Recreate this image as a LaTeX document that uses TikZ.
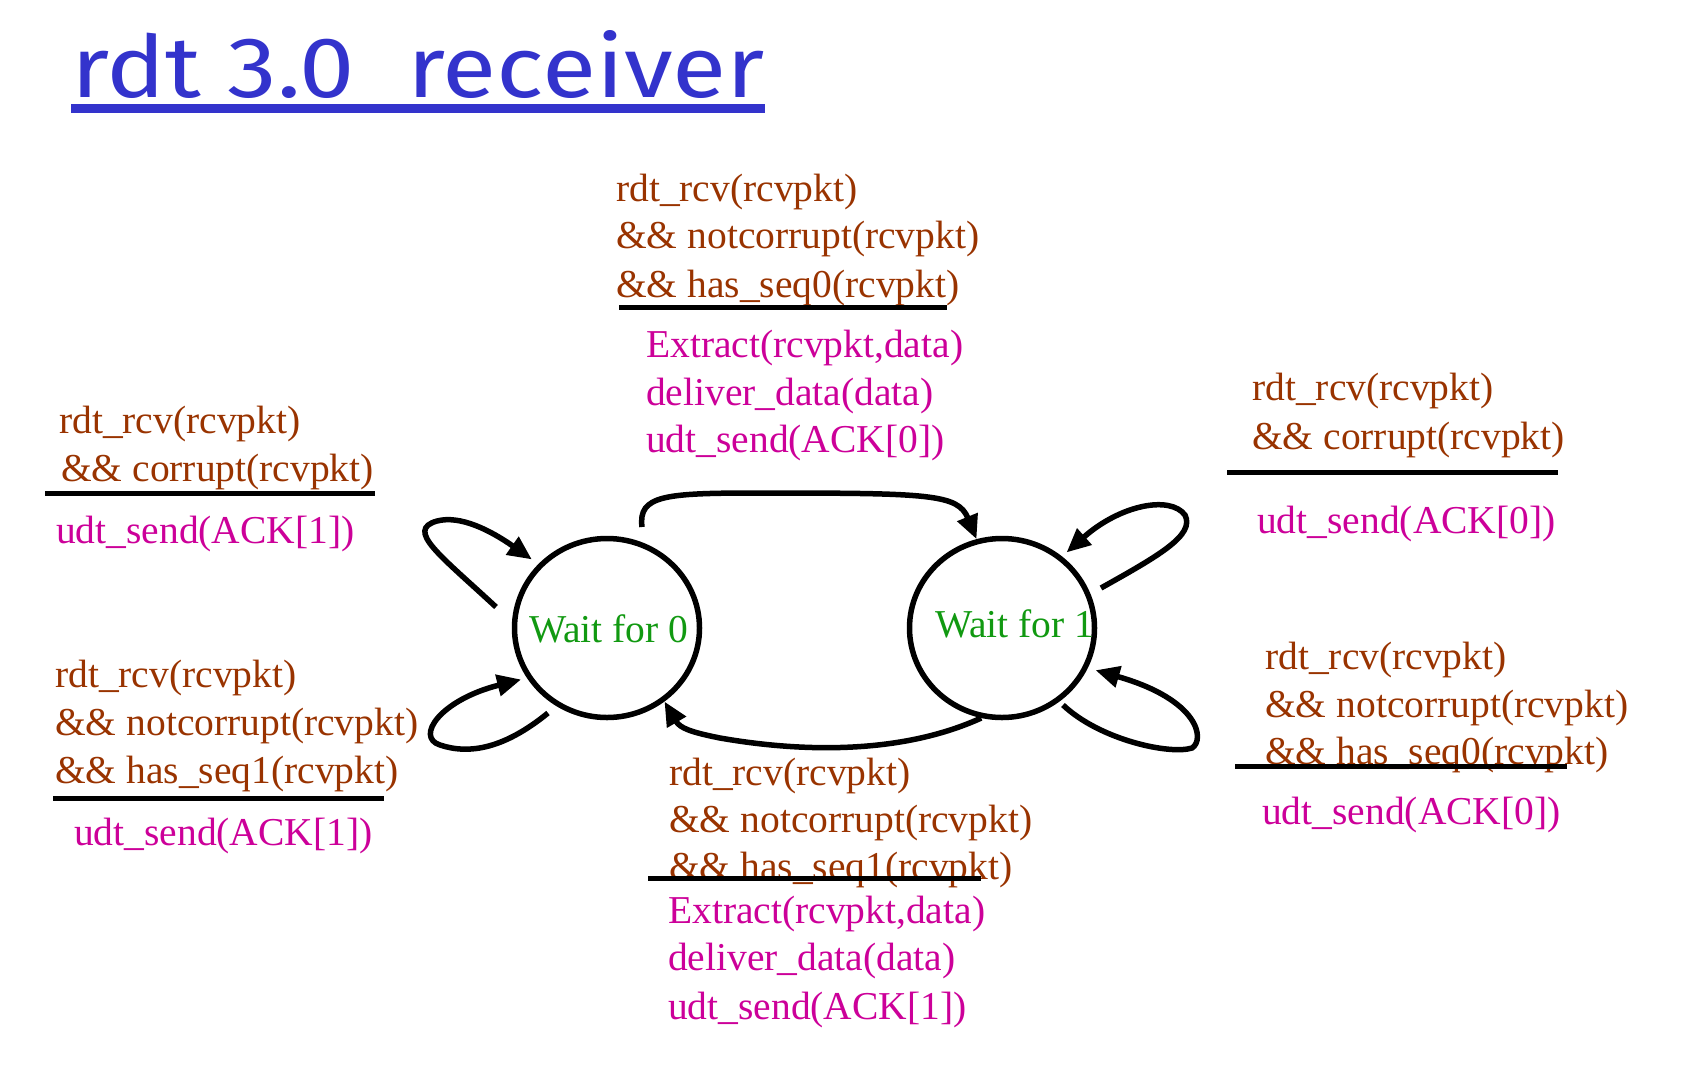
\documentclass[tikz,border=0pt]{standalone}
\usepackage{fontspec}
\setmainfont{Liberation Serif}
\newfontfamily\titlefont{Fira Sans}
\usetikzlibrary{shapes.geometric,arrows.meta}
\definecolor{condc}{HTML}{993300}
\definecolor{actc}{HTML}{CC0099}
\definecolor{statec}{HTML}{119911}
\definecolor{titlec}{HTML}{3333CC}
\newcommand\myfs{\fontsize{39.5}{47.5}\selectfont}
\tikzset{
  cnd/.style={anchor=base west, inner sep=0pt, text=condc, font=\myfs},
  act/.style={anchor=base west, inner sep=0pt, text=actc, font=\myfs},
  stlabel/.style={anchor=base west, inner sep=0pt, text=statec, font=\myfs},
  statebox/.style={ellipse, draw=black, line width=5.5pt, inner sep=0pt, minimum width=185pt, minimum height=179pt},
  bar/.style={draw=black, line width=5pt},
  trans/.style={draw=black, line width=5.5pt, -{Triangle[length=24pt,width=21pt]}},
}
\begin{document}
\begin{tikzpicture}[x=1pt,y=-1pt]
\useasboundingbox (0,0) rectangle (1692,1080);
% title
\node[anchor=base west, inner sep=0pt, text=titlec] (title) at (71,97) {\resizebox{693pt}{67pt}{\titlefont rdt 3.0\ \ receiver}};
\fill[titlec] (71,104) rectangle (765,113);
% states
\node[statebox] (w0) at (607,628) {};
\node[statebox] (w1) at (1002,628) {};
\node[stlabel] (l0) at (529,642) {Wait for 0};
\node[stlabel] (l1) at (935,637) {Wait for 1};
% transitions
\coordinate (tl) at (496,607);
\coordinate (bl) at (548,713);
\coordinate (tr) at (1101,588);
\coordinate (br) at (1063,705);
\coordinate (ts) at (642,527);
\draw[trans] (ts) .. controls (638,495) and (665,493) .. (760,493) .. controls (930,493) and (958,494) .. (w1.106);
\draw[trans] (w1.257) .. controls (900,755) and (800,752) .. (720,738) .. controls (690,732) and (680,728) .. (w0.308);
\draw[trans, shorten >=8pt] (tl) .. controls (440,555) and (405,530) .. (437,521) .. controls (460,515) and (490,530) .. (w0.137);
\draw[trans, shorten >=6pt] (bl) .. controls (505,748) and (470,755) .. (440,745) .. controls (415,737) and (440,700) .. (w0.212);
\draw[trans, shorten >=6pt] (tr) .. controls (1160,555) and (1195,535) .. (1185,515) .. controls (1170,495) and (1120,505) .. (w1.50);
\draw[trans, shorten >=8pt] (br) .. controls (1100,740) and (1170,755) .. (1192,748) .. controls (1205,740) and (1200,700) .. (w1.335);
% top label (0 -> 1)
\node[cnd] (t1) at (616,201) {rdt\_rcv(rcvpkt)};
\node[cnd] (t2) at (616,248) {\&\& notcorrupt(rcvpkt)};
\node[cnd] (t3) at (616,297) {\&\& has\_seq0(rcvpkt)};
\draw[bar] (619,307) -- (947,307);
\node[act] (t4) at (646,357) {Extract(rcvpkt,data)};
\node[act] (t5) at (646,405) {deliver\_data(data)};
\node[act] (t6) at (646,452) {udt\_send(ACK[0])};
% left top
\node[cnd] (a1) at (59,433) {rdt\_rcv(rcvpkt)};
\node[cnd] (a2) at (61,481) {\&\& corrupt(rcvpkt)};
\draw[bar] (45,493) -- (375,493);
\node[act] (a3) at (56,543) {udt\_send(ACK[1])};
% left bottom
\node[cnd] (b1) at (55,687) {rdt\_rcv(rcvpkt)};
\node[cnd] (b2) at (55,735) {\&\& notcorrupt(rcvpkt)};
\node[cnd] (b3) at (55,783) {\&\& has\_seq1(rcvpkt)};
\draw[bar] (53,798) -- (384,798);
\node[act] (b4) at (74,845) {udt\_send(ACK[1])};
% right top
\node[cnd] (c1) at (1252,400) {rdt\_rcv(rcvpkt)};
\node[cnd] (c2) at (1252,449) {\&\& corrupt(rcvpkt)};
\draw[bar] (1227,472) -- (1558,472);
\node[act] (c3) at (1257,533) {udt\_send(ACK[0])};
% right bottom
\node[cnd] (d1) at (1265,669) {rdt\_rcv(rcvpkt)};
\node[cnd] (d2) at (1265,717) {\&\& notcorrupt(rcvpkt)};
\node[cnd] (d3) at (1265,764) {\&\& has\_seq0(rcvpkt)};
\draw[bar] (1235,766) -- (1567,766);
\node[act] (d4) at (1262,824) {udt\_send(ACK[0])};
% bottom center (1 -> 0)
\node[cnd] (e1) at (669,785) {rdt\_rcv(rcvpkt)};
\node[cnd] (e2) at (669,832) {\&\& notcorrupt(rcvpkt)};
\node[cnd] (e3) at (669,879) {\&\& has\_seq1(rcvpkt)};
\draw[bar] (648,878) -- (981,878);
\node[act] (e4) at (668,923) {Extract(rcvpkt,data)};
\node[act] (e5) at (668,970) {deliver\_data(data)};
\node[act] (e6) at (668,1019) {udt\_send(ACK[1])};
\end{tikzpicture}
\end{document}
